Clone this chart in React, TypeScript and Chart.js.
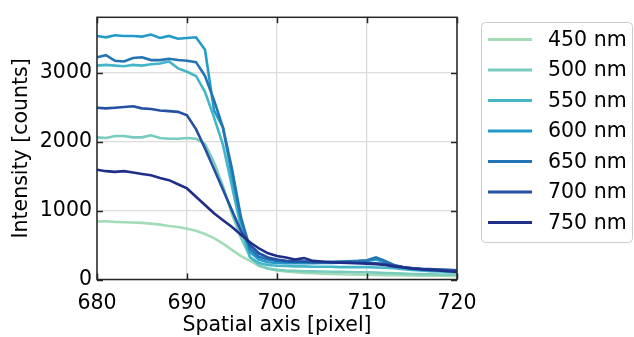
import React, { useEffect, useRef } from "react";
import { Chart, registerables } from "chart.js";

Chart.register(...registerables);

const xPixels = [
  680, 681, 682, 683, 684, 685, 686, 687, 688, 689, 690, 691, 692, 693, 694, 695, 696, 697, 698, 699, 700,
  701, 702, 703, 704, 705, 706, 707, 708, 709, 710, 711, 712, 713, 714, 715, 716, 717, 718, 719, 720,
];

const labels = ["450 nm", "500 nm", "550 nm", "600 nm", "650 nm", "700 nm", "750 nm"];
const colors = ["#a3dcb8", "#78cbbd", "#45b5c8", "#239bc9", "#2474b3", "#2451a3", "#1f2f89"];

const s450 = [840, 845, 835, 830, 825, 820, 810, 795, 775, 760, 735, 705, 660, 600, 520, 430, 340, 270, 200, 160, 130, 115, 105, 95, 90, 85, 80, 75, 72, 70, 68, 66, 64, 62, 60, 58, 56, 55, 54, 52, 50];
const s500 = [2060, 2050, 2080, 2080, 2060, 2060, 2090, 2050, 2040, 2040, 2050, 2040, 1960, 1700, 1350, 950, 600, 330, 200, 160, 140, 130, 125, 120, 118, 115, 112, 110, 108, 106, 105, 100, 95, 90, 85, 80, 78, 75, 72, 70, 68];
const s550 = [3100, 3110, 3100, 3090, 3110, 3100, 3120, 3130, 3160, 3060, 3010, 2950, 2720, 2350, 1950, 1350, 750, 320, 240, 210, 200, 195, 190, 190, 185, 185, 185, 180, 180, 180, 180, 175, 170, 165, 150, 140, 130, 120, 115, 110, 105];
const s600 = [3530, 3510, 3540, 3530, 3530, 3520, 3550, 3500, 3530, 3490, 3500, 3510, 3330, 2450, 2200, 1500, 850, 400, 290, 250, 240, 235, 235, 235, 235, 240, 240, 245, 250, 255, 270, 290, 250, 200, 170, 150, 140, 135, 130, 125, 120];
const s650 = [3220, 3250, 3170, 3160, 3210, 3220, 3180, 3180, 3200, 3180, 3170, 3150, 2950, 2600, 2200, 1600, 900, 450, 330, 290, 270, 260, 255, 255, 250, 250, 255, 260, 265, 270, 280, 320, 270, 210, 180, 160, 150, 145, 140, 135, 130];
const s700 = [2490, 2480, 2490, 2500, 2510, 2480, 2470, 2450, 2440, 2430, 2380, 2180, 1900, 1600, 1300, 1000, 700, 500, 380, 320, 290, 270, 260, 260, 255, 250, 250, 245, 245, 240, 240, 235, 225, 200, 180, 165, 155, 150, 145, 140, 135];
const s750 = [1590, 1570, 1560, 1570, 1550, 1530, 1510, 1470, 1440, 1380, 1320, 1200, 1080, 960, 860, 760, 650, 540, 450, 380, 340, 320, 290, 310, 270, 260, 250, 245, 240, 235, 230, 220, 210, 190, 175, 160, 150, 140, 130, 120, 110];

const series = [s450, s500, s550, s600, s650, s700, s750];

const xTicks = [680, 690, 700, 710, 720];
const yTicks = [0, 1000, 2000, 3000];

const FONT = "'DejaVu Sans', sans-serif";
const FS = 20.5;

const framePlugin = {
  id: "frame",
  afterDatasetsDraw(chart: any) {
    const { ctx, chartArea: a, scales } = chart;
    ctx.save();
    ctx.strokeStyle = "#262626";
    ctx.lineWidth = 1.5;
    const L = 6;
    ctx.beginPath();
    xTicks.forEach((v) => {
      const px = Math.round(scales.x.getPixelForValue(v)) + 0.5;
      ctx.moveTo(px, a.bottom);
      ctx.lineTo(px, a.bottom - L);
      ctx.moveTo(px, a.top);
      ctx.lineTo(px, a.top + L);
    });
    yTicks.forEach((v) => {
      const py = Math.round(scales.y.getPixelForValue(v)) + 0.5;
      ctx.moveTo(a.left, py);
      ctx.lineTo(a.left + L, py);
      ctx.moveTo(a.right, py);
      ctx.lineTo(a.right - L, py);
    });
    ctx.stroke();
    ctx.strokeRect(a.left, a.top, a.right - a.left, a.bottom - a.top);
    ctx.restore();
  },
};

const legendPlugin = {
  id: "boxLegend",
  afterDraw(chart: any) {
    const { ctx } = chart;
    ctx.save();
    const x0 = 481.5, y0 = 22.5, w = 151, h = 220, r = 4;
    ctx.beginPath();
    ctx.moveTo(x0 + r, y0);
    ctx.lineTo(x0 + w - r, y0);
    ctx.arcTo(x0 + w, y0, x0 + w, y0 + r, r);
    ctx.lineTo(x0 + w, y0 + h - r);
    ctx.arcTo(x0 + w, y0 + h, x0 + w - r, y0 + h, r);
    ctx.lineTo(x0 + r, y0 + h);
    ctx.arcTo(x0, y0 + h, x0, y0 + h - r, r);
    ctx.lineTo(x0, y0 + r);
    ctx.arcTo(x0, y0, x0 + r, y0, r);
    ctx.closePath();
    ctx.fillStyle = "rgba(255,255,255,0.8)";
    ctx.fill();
    ctx.strokeStyle = "#cccccc";
    ctx.lineWidth = 1;
    ctx.stroke();
    ctx.font = `${FS}px ${FONT}`;
    ctx.textBaseline = "middle";
    ctx.textAlign = "left";
    chart.data.datasets.forEach((ds: any, i: number) => {
      const y = 39.5 + i * 30.5;
      ctx.beginPath();
      ctx.strokeStyle = ds.borderColor;
      ctx.lineWidth = 3;
      ctx.moveTo(488, y);
      ctx.lineTo(532, y);
      ctx.stroke();
      ctx.fillStyle = "#000000";
      ctx.fillText(ds.label, 548, y + 1);
    });
    ctx.restore();
  },
};

export default function App() {
  const ref = useRef<HTMLCanvasElement>(null);
  useEffect(() => {
    if (!ref.current) return;
    const chart = new Chart(ref.current, {
      type: "line",
      data: {
        datasets: series.map((s, i) => ({
          label: labels[i],
          data: s.map((v, j) => ({ x: xPixels[j], y: v })),
          borderColor: colors[i],
          backgroundColor: colors[i],
          borderWidth: 2.6,
          pointRadius: 0,
          tension: 0,
          fill: false,
          order: series.length - 1 - i,
        })),
      },
      options: {
        animation: false,
        responsive: false,
        devicePixelRatio: 1,
        layout: { padding: { top: 12.5, right: 177, left: 0, bottom: 0 } },
        plugins: { legend: { display: false }, tooltip: { enabled: false } },
        scales: {
          x: {
            type: "linear",
            min: 680,
            max: 720,
            afterFit: (s: any) => {
              s.height = 57.5;
            },
            afterBuildTicks: (s: any) => {
              s.ticks = xTicks.map((v) => ({ value: v }));
            },
            ticks: {
              color: "#000",
              font: { family: FONT, size: FS },
              padding: 12,
              maxRotation: 0,
              callback: (v: any) => String(v),
            },
            grid: { color: "#dcdcdc", lineWidth: 1.3, drawTicks: false },
            border: { display: false },
            title: {
              display: true,
              text: "Spatial axis [pixel]",
              color: "#000",
              font: { family: FONT, size: FS, lineHeight: 1 },
              padding: { top: 0, bottom: 1 },
            },
          },
          y: {
            type: "linear",
            min: 0,
            max: 3800,
            afterFit: (s: any) => {
              s.width = 97;
            },
            afterBuildTicks: (s: any) => {
              s.ticks = yTicks.map((v) => ({ value: v }));
            },
            ticks: {
              color: "#000",
              font: { family: FONT, size: FS },
              padding: 5,
              callback: (v: any) => String(v),
            },
            grid: { color: "#dcdcdc", lineWidth: 1.3, drawTicks: false },
            border: { display: false },
            title: {
              display: true,
              text: "Intensity [counts]",
              color: "#000",
              font: { family: FONT, size: FS, lineHeight: 1 },
              padding: { top: 11, bottom: 0 },
            },
          },
        },
      },
      plugins: [framePlugin, legendPlugin],
    });
    return () => chart.destroy();
  }, []);
  return (
    <div style={{ position: "absolute", left: 0, top: 0, width: 634, height: 337, background: "#fff" }}>
      <canvas ref={ref} width={634} height={337} style={{ display: "block" }} />
    </div>
  );
}
